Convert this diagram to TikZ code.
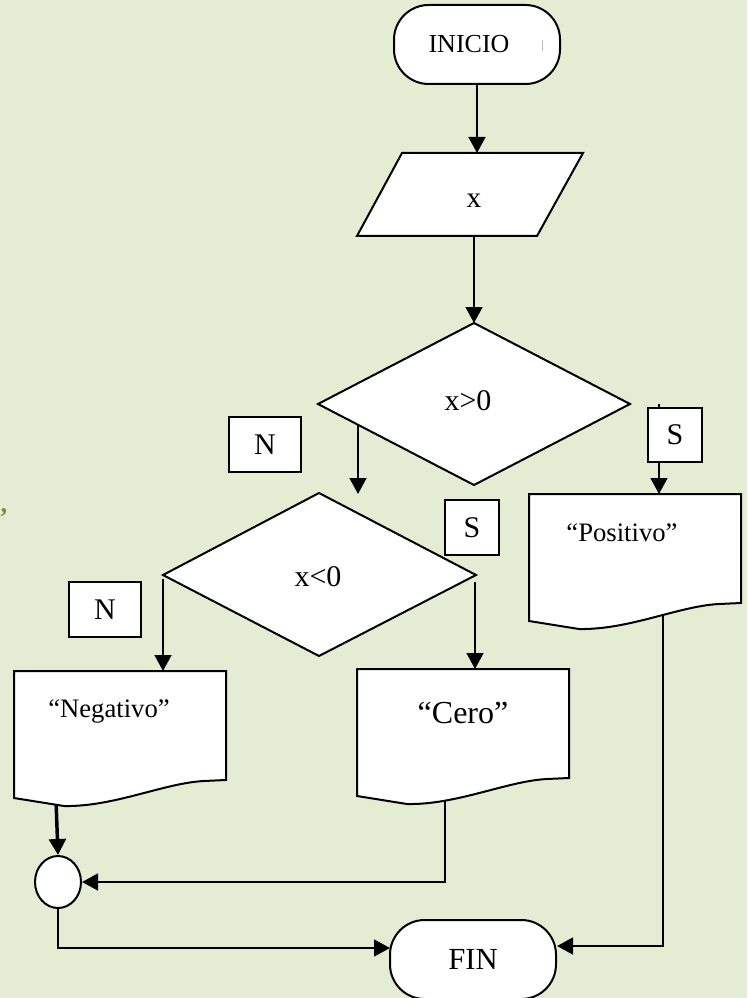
\documentclass[tikz,border=0pt]{standalone}
\usepackage{fontspec}
\setmainfont{Liberation Serif}
\usetikzlibrary{arrows.meta,shapes.geometric}
\definecolor{bgc}{RGB}{228,236,212}
\definecolor{olivec}{RGB}{118,146,60}
\tikzset{
  shp/.style={draw=black, fill=white, line width=1.5pt, line join=miter},
  conn/.style={line width=1.9pt, -{Triangle[width=12.5pt,length=12pt]}},
  term/.style={shp, rectangle, rounded corners=26pt, minimum width=124.5pt, minimum height=59.25pt, inner sep=0pt},
  tagbox/.style={shp, rectangle, inner sep=0pt, font=\fontsize{22.5}{24}\selectfont},
  txt/.style={anchor=base, inner sep=0pt},
}
\begin{document}
\begin{tikzpicture}[x=0.75pt, y=-0.75pt]
\fill[bgc] (0,0) rectangle (747,998);
\useasboundingbox (0,0) rectangle (747,998);

% terminal and junction nodes
\node[term] (inicio) at (477,44.5) {};
\node[term, font=\fontsize{23}{24}\selectfont] (fin) at (473,959.5) {FIN};
\node[shp, ellipse, minimum width=34.5pt, minimum height=39pt, inner sep=0pt] (junc) at (58,882) {};

% connection points
\coordinate (parT) at (477,153);
\coordinate (parB) at (474,236);
\coordinate (dA) at (474,323);
\coordinate (dAL) at (358,425);
\coordinate (dBin) at (358,494);
\coordinate (sStart) at (659,404);
\coordinate (posT) at (659,494);
\coordinate (dBW) at (163,579);
\coordinate (negT) at (163,671);
\coordinate (dBE) at (475,582);
\coordinate (ceroT) at (475,669);
\coordinate (negB) at (56,800);
\coordinate (ceroB) at (445,800);
\coordinate (posB) at (663,615);
\coordinate (finW) at (390,948);
\coordinate (finE) at (557,946);

% connectors
\draw[conn] (inicio.south) -- (parT);
\draw[conn] (parB) -- (dA);
\draw[conn] (dAL) -- (dBin);
\draw[conn] (sStart) -- (posT);
\draw[conn] (dBW) -- (negT);
\draw[conn] (dBE) -- (ceroT);
\draw[conn, line width=2.6pt] (negB) -- (junc.north);
\draw[conn] (ceroB) |- (junc.east);
\draw[conn] (junc.south) |- (finW);
\draw[conn] (posB) |- (finE);

% parallelogram
\draw[shp] (402,153) -- (583,153) -- (537,236) -- (357,236) -- cycle;
% decisions
\draw[shp] (474,323) -- (630,404) -- (474,485) -- (318,404) -- cycle;
\draw[shp] (319,493) -- (476,575) -- (319,656) -- (163,575) -- cycle;
% documents
\foreach \L/\T in {529/494, 14/671, 357/669}{
  \begin{scope}[shift={(\L,\T)}]
    \draw[shp] (0,0) -- (212,0) -- (212,109) -- (190,110)
      .. controls (150,112) and (100,136) .. (50,135) -- (0,127) -- cycle;
  \end{scope}
}

% small mark in INICIO
\draw[gray!55, line width=0.6pt] (542,40) -- (542,51);

% texts
\node[txt, font=\fontsize{19.5}{20}\selectfont] (tini) at (469,53) {INICIO};
\node[txt, font=\fontsize{22}{24}\selectfont] (tx) at (474,208) {x};
\node[txt, font=\fontsize{22.5}{24}\selectfont] (tgt) at (468,410) {x>0};
\node[txt, font=\fontsize{22.5}{24}\selectfont] (tlt) at (318,586) {x<0};
\node[txt, font=\fontsize{20}{22}\selectfont] (tpos) at (622,541) {“Positivo”};
\node[txt, font=\fontsize{20}{22}\selectfont] (tneg) at (109,717) {“Negativo”};
\node[txt, font=\fontsize{24}{26}\selectfont] (tcero) at (463,723) {“Cero”};
\node[txt, text=olivec, font=\fontsize{20}{20}\selectfont\bfseries] (comma) at (4,512) {,};

% yes/no tags
\node[tagbox, minimum width=54pt, minimum height=41.25pt] (n1) at (265,444.5) {N};
\node[tagbox, minimum width=40.5pt, minimum height=41.25pt] (s1) at (472,527.5) {S};
\node[tagbox, minimum width=54pt, minimum height=41.25pt] (n2) at (105,609.5) {N};
\node[tagbox, minimum width=40.5pt, minimum height=40.5pt] (s2) at (675,435) {S};
\end{tikzpicture}
\end{document}
